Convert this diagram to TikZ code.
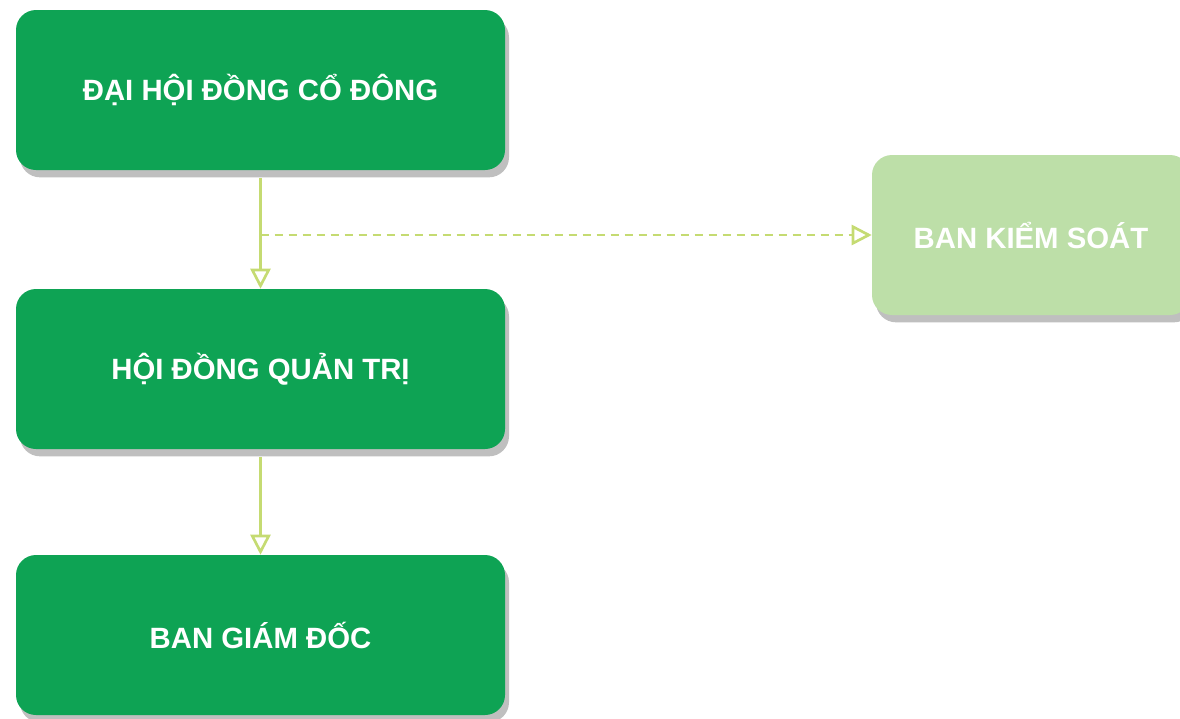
\documentclass[tikz,border=0pt]{standalone}
\usepackage{fontspec}
\setmainfont{Liberation Sans}
\usetikzlibrary{arrows.meta,shadows}

\definecolor{boxgreen}{HTML}{0EA354}
\definecolor{lightgreen}{HTML}{BDDFA8}
\definecolor{linegreen}{HTML}{C5DB72}
\definecolor{shadowgray}{HTML}{BFBFBF}

\tikzset{
  orgbox/.style={rounded corners=15pt, minimum width=366.75pt, minimum height=120pt,
    inner sep=0pt, fill=boxgreen, text=white, font=\fontsize{22}{26}\selectfont\bfseries,
    drop shadow={shadow xshift=3pt, shadow yshift=-5.5pt, fill=shadowgray, opacity=1}},
  sidebox/.style={orgbox, fill=lightgreen, minimum width=238.5pt},
  orgline/.style={draw=linegreen, line width=2pt,
    -{Triangle[open, length=15pt, width=15pt, line width=2pt]}},
  dashline/.style={orgline, dash pattern=on 6pt off 4.5pt}
}

\begin{document}
\begin{tikzpicture}[x=0.75pt, y=-0.75pt]
      \useasboundingbox (0,0) rectangle (1180,718);
      %%%%%%%%%%%%%%%%%%%%%%%%%%%%%%%%%%%%%%%%%%%%%%%
      \node[orgbox]  at (260.5,90)  (dhdcd) {ĐẠI HỘI ĐỒNG CỔ ĐÔNG};
      \node[orgbox]  at (260.5,369) (hdqt)  {HỘI ĐỒNG QUẢN TRỊ};
      \node[orgbox]  at (260.5,635) (bgd)   {BAN GIÁM ĐỐC};
      \node[sidebox] at (1031,235)  (bks)   {BAN KIỂM SOÁT};
      %%%%%%%%%%%%%%%%%%%%%%%%%%%%%%%%%%%%%%%%%%%%%%%
      \coordinate (split) at (260.5,235);
      \draw[orgline] (dhdcd.south) ++(0,8) -- (hdqt);
      \draw[orgline] (hdqt.south) ++(0,8) -- (bgd);
      \draw[dashline] (split) -- (bks);
      %%%%%%%%%%%%%%%%%%%%%%%%%%%%%%%%%%%%%%%%%%%%%%%
\end{tikzpicture}
\end{document}
